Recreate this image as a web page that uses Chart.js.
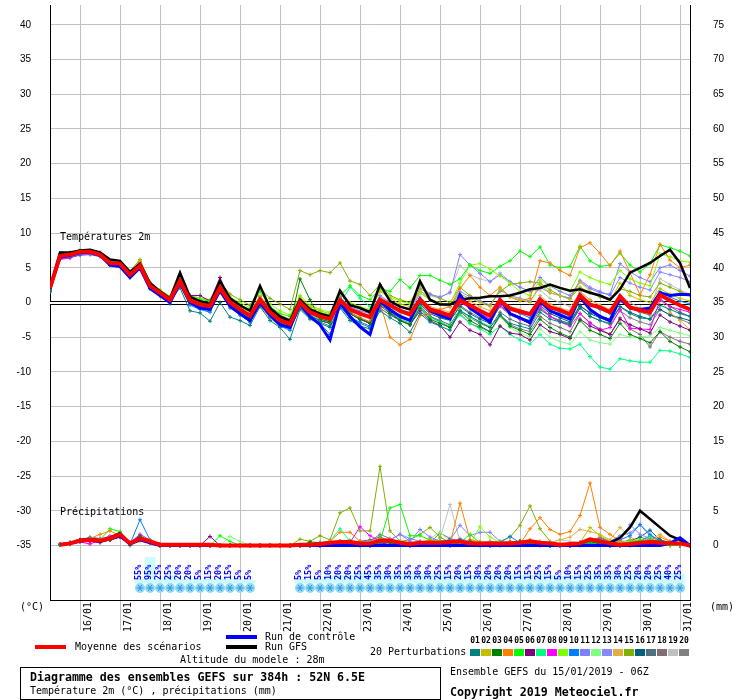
<!DOCTYPE html>
<html lang="fr">
<head>
<meta charset="UTF-8">
<title>Diagramme des ensembles GEFS sur 384h : 52N 6.5E</title>
<script src="https://cdn.jsdelivr.net/npm/chart.js"></script>
<style>
  body { margin: 0; background: #fff; }
  #wrap { position: relative; width: 740px; height: 700px; font-family: "DejaVu Sans Mono", monospace; font-size: 10px; color: #000; }
  #wrap canvas { position: absolute; left: 0; top: 0; }
  .t { position: absolute; white-space: nowrap; line-height: 12px; }
  .b { font-weight: bold; font-size: 11.6px; }
  .sw { position: absolute; height: 4px; width: 31px; }
  .num { position: absolute; top: 636px; width: 11px; text-align: center; font-size: 8px; font-weight: bold; line-height: 10px; }
  .box { position: absolute; top: 649px; width: 10px; height: 7px; }
  #frame { position: absolute; left: 20px; top: 667px; width: 419px; height: 31px; border: 1px solid #000; }
</style>
</head>
<body>
<div id="wrap">
  <canvas id="gefs" width="740" height="700"></canvas>
  <div class="t" style="left:60px;top:231px">Températures 2m</div>
  <div class="t" style="left:60px;top:506px">Précipitations</div>
  <div class="t" style="left:20px;top:601px">(°C)</div>
  <div class="t" style="left:710px;top:601px">(mm)</div>
  <div class="sw" style="left:35px;top:645px;background:#ff0000"></div>
  <div class="t" style="left:75px;top:641px">Moyenne des scénarios</div>
  <div class="sw" style="left:226px;top:635px;background:#0000ff"></div>
  <div class="t" style="left:265px;top:631px">Run de contrôle</div>
  <div class="sw" style="left:226px;top:645px;background:#000"></div>
  <div class="t" style="left:265px;top:641px">Run GFS</div>
  <div class="t" style="left:180px;top:654px">Altitude du modele : 28m</div>
  <div class="t" style="left:370px;top:646px">20 Perturbations</div>
  <div id="members"></div>
  <div id="frame"></div>
  <div class="t b" style="left:30px;top:671px">Diagramme des ensembles GEFS sur 384h : 52N 6.5E</div>
  <div class="t" style="left:30px;top:685px">Température 2m (°C) , précipitations (mm)</div>
  <div class="t" style="left:450px;top:666px">Ensemble GEFS du 15/01/2019 - 06Z</div>
  <div class="t b" style="left:450px;top:686px">Copyright 2019 Meteociel.fr</div>
</div>

<script>
// run hours from 15/01 06Z, one point every 6h
const hours = [0,6,12,18,24,30,36,42,48,54,60,66,72,78,84,90,96,102,108,114,120,126,132,138,144,150,156,162,168,174,180,186,192,198,204,210,216,222,228,234,240,246,252,258,264,270,276,282,288,294,300,306,312,318,324,330,336,342,348,354,360,366,372,378,384];
const dayHours = [18,42,66,90,114,138,162,186,210,234,258,282,306,330,354,378];
const dayLabels = ['16/01','17/01','18/01','19/01','20/01','21/01','22/01','23/01','24/01','25/01','26/01','27/01','28/01','29/01','30/01','31/01'];
const tempTicks = [-35,-30,-25,-20,-15,-10,-5,0,5,10,15,20,25,30,35,40];
const rainTicks = [0,5,10,15,20,25,30,35,40,45,50,55,60,65,70,75];

// temperature 2m (°C)
const meanTemp = [2.1,6.7,6.9,7.3,7.3,6.9,5.7,5.6,4.0,5.3,2.4,1.4,0.4,
  3.1,0.3,-0.3,-0.5,2.1,0.0,-1.0,-1.9,0.4,-1.4,-2.6,-3.1,
  0.0,-1.4,-2.0,-2.4,0.3,-1.0,-1.6,-2.1,0.4,-0.4,-1.2,-1.7,
  0.4,-1.0,-1.4,-1.9,0.3,-0.4,-1.2,-1.9,0.3,-0.9,-1.3,-1.7,
  0.4,-0.7,-1.1,-1.7,1.0,-0.3,-0.7,-1.4,0.9,-0.7,-1.1,-1.4,1.1,0.3,-0.4,-1.0];
const ctrlTemp = [2.0,6.5,6.8,7.2,7.2,6.8,5.4,5.2,3.6,5.0,2.0,1.0,0.0,
  2.8,0.0,-0.8,-1.0,1.8,-0.5,-1.6,-2.6,0.0,-1.8,-3.2,-3.6,
  -0.2,-2.0,-3.2,-5.4,0.0,-2.0,-3.5,-4.6,0.2,-1.0,-2.0,-2.6,
  0.5,-1.2,-1.8,-2.4,1.1,-0.8,-1.8,-2.8,0.4,-1.6,-2.2,-2.9,
  0.2,-1.2,-1.8,-2.4,0.8,-1.0,-2.0,-2.6,0.6,-0.8,-1.0,-0.8,1.4,1.0,1.2,1.1];
const gfsTemp = [2.1,7.2,7.2,7.5,7.6,7.2,6.2,6.0,4.4,5.6,2.8,1.6,0.6,
  4.3,0.8,0.2,-0.2,3.1,0.6,-0.4,-1.2,2.4,-0.8,-2.0,-2.6,
  0.4,-1.0,-1.6,-2.0,1.7,-0.4,-0.8,-1.4,2.6,0.2,-0.6,-1.0,
  3.1,0.4,-0.3,-0.3,0.4,0.6,0.7,0.9,0.9,1.0,1.4,1.9,
  2.1,2.6,2.1,1.7,1.9,1.4,1.0,0.4,1.9,4.3,5.0,5.7,6.7,7.6,5.7,2.1];

const t01 = [1.8,6.5,6.6,7.0,7.4,7.0,5.4,5.2,3.7,5.0,2.0,1.0,0.2,
  2.1,-1.2,-1.5,-2.7,0.0,-2.1,-2.6,-3.3,-0.6,-2.6,-3.6,-5.3,
  -1.0,-2.4,-3.0,-3.6,-0.8,-2.6,-3.4,-3.8,-1.2,-2.2,-3.0,-4.3,
  -1.6,-2.8,-3.4,-4.0,-1.2,-2.0,-2.8,-3.6,-1.8,-3.0,-3.4,-3.8,
  -1.4,-2.4,-2.8,-3.2,-0.8,-2.0,-2.6,-3.0,-0.6,-1.6,-2.2,-2.4,-0.4,-1.0,-1.6,-2.0];
const t02 = [2.4,6.8,7.0,7.3,7.2,6.8,5.9,5.8,4.4,5.8,2.8,1.6,0.6,
  3.4,0.6,0.0,-0.2,2.4,0.4,-0.6,-1.4,1.0,-0.8,-1.8,-2.4,
  0.8,-0.6,-1.2,-1.6,1.2,-0.2,-0.8,-1.2,1.6,0.6,-0.2,-0.6,
  1.8,0.4,0.0,-0.4,1.2,0.6,0.0,-0.6,2.0,0.8,0.4,0.0,
  2.6,1.4,1.0,0.4,3.0,1.6,1.0,0.2,2.8,1.0,0.4,0.0,2.0,1.2,0.6,0.2];
const t03 = [2.0,6.9,7.1,7.4,7.2,6.8,5.6,5.4,3.8,5.4,2.2,1.2,0.2,
  3.2,0.0,-0.6,-0.8,2.4,-0.2,-1.2,-2.2,0.6,-1.6,-2.8,-3.4,
  3.4,0.4,-2.4,-2.8,0.0,-1.6,-2.4,-3.0,-0.4,-1.6,-2.6,-3.2,
  -0.8,-2.4,-3.0,-3.6,-1.2,-2.6,-3.4,-4.2,-1.8,-3.4,-4.0,-4.6,
  -2.4,-3.6,-4.4,-5.0,-2.6,-4.0,-4.6,-5.2,-3.0,-4.6,-5.2,-5.8,-4.2,-5.6,-6.4,-7.1];
const t04 = [2.2,6.6,6.8,7.2,7.4,7.1,5.8,5.7,4.2,5.9,2.6,1.4,0.4,
  3.0,0.2,-0.4,-0.6,2.0,-0.2,-1.2,-2.0,0.2,-1.4,-2.8,-3.2,
  0.2,-1.2,-2.0,-2.6,0.4,-1.6,-2.2,-2.8,0.0,-5.0,-6.1,-5.3,
  -1.9,-1.6,-1.0,-0.6,2.0,3.9,2.2,1.0,2.2,0.8,0.2,0.6,
  6.0,5.7,4.6,3.9,7.9,8.6,7.1,5.3,7.4,4.3,1.1,4.0,8.4,6.1,5.0,5.4];
const t05 = [2.3,7.0,7.2,7.5,7.4,6.9,5.8,5.6,4.1,5.6,2.6,1.6,0.8,
  3.6,0.8,0.4,0.2,2.6,0.6,-0.4,-1.0,1.6,-0.6,-1.6,-2.0,
  0.6,-0.8,-1.4,-1.8,1.0,2.4,1.0,0.4,2.0,1.6,3.3,2.1,
  3.9,3.9,3.2,2.6,3.4,5.4,4.6,4.2,5.2,6.0,7.4,6.6,
  8.0,5.4,5.0,5.2,8.1,6.0,5.2,5.4,7.1,5.4,4.4,5.6,8.3,7.9,7.4,6.7];
const t06 = [1.9,6.6,6.8,7.2,7.4,7.2,5.6,5.4,3.9,5.8,2.8,1.6,0.6,
  3.8,1.0,1.0,0.2,3.6,0.2,-1.0,-1.8,0.8,-1.0,-2.2,-2.8,
  0.2,-1.2,-2.0,-2.6,-0.2,-1.6,-2.4,-3.0,0.0,-1.4,-2.6,-3.2,
  -1.2,-2.6,-3.3,-5.0,-2.8,-4.0,-4.6,-6.1,-3.4,-4.4,-4.6,-5.4,
  -3.2,-4.2,-4.6,-5.2,-2.4,-3.4,-4.0,-4.6,-2.4,-3.2,-3.8,-4.4,-1.8,-2.8,-3.4,-4.0];
const t07 = [2.0,6.8,7.0,7.3,7.3,6.9,5.6,5.4,3.9,5.2,2.2,1.2,0.2,
  2.8,0.0,-0.6,-0.8,1.8,-0.4,-1.4,-2.2,0.0,-1.8,-2.8,-3.4,
  -0.4,-1.8,-2.4,-2.8,-0.2,2.2,0.6,-0.6,0.0,-1.4,-2.4,-3.0,
  -0.6,-2.2,-2.8,-3.4,-1.8,-3.0,-3.8,-4.6,-3.4,-4.6,-5.4,-6.0,
  -4.6,-6.0,-6.6,-6.7,-6.0,-7.8,-9.3,-9.6,-8.1,-8.4,-8.6,-8.6,-6.9,-7.0,-7.4,-7.9];
const t08 = [2.5,6.2,6.4,6.9,7.0,6.7,5.6,5.6,4.1,5.4,2.4,1.4,0.4,
  3.0,0.4,0.2,-0.2,2.2,0.0,-1.0,-1.8,0.6,-1.0,-2.2,-3.0,
  0.4,-1.2,-2.0,-2.4,0.8,-0.8,-1.6,-2.0,-0.8,-0.4,-1.2,-1.8,
  0.2,-1.2,-1.8,-2.2,0.0,-0.8,-1.6,-2.4,-0.4,-1.6,-2.4,-3.0,
  -0.6,-2.0,-2.8,-3.4,-1.6,-2.9,-4.0,-3.6,-1.0,-3.7,-3.8,-3.9,0.4,-0.6,-1.0,-1.4];
const t09 = [2.3,7.0,7.2,7.6,7.5,7.0,5.9,5.8,4.3,5.9,2.8,1.8,0.9,
  3.6,0.9,0.6,0.2,3.0,0.8,0.0,-0.8,2.0,-0.2,-1.2,-1.8,
  1.0,-0.4,-1.0,-1.4,1.4,0.0,-0.6,-1.0,1.8,0.8,0.2,-0.2,
  1.4,0.4,-0.2,-0.2,2.8,5.4,5.6,4.8,3.8,2.8,1.6,1.0,
  3.2,2.4,2.0,1.6,4.4,3.6,3.0,2.6,4.6,3.4,2.8,2.4,7.0,6.6,6.0,5.8];
const t10 = [2.0,6.3,6.5,6.8,6.9,6.6,5.4,5.2,3.6,5.0,2.2,1.0,-0.2,
  2.6,-0.4,-1.0,-1.4,1.6,-0.6,-1.8,-2.8,-0.2,-2.0,-3.4,-4.0,
  -0.6,-2.2,-3.0,-4.6,-0.6,-2.2,-2.8,-3.4,-0.2,-1.4,-2.2,-2.6,
  0.6,-1.0,-1.4,-2.0,0.8,-0.4,-1.4,-2.4,0.2,-1.0,-1.6,-2.2,
  0.6,-0.8,-1.4,-2.0,1.2,-0.4,-1.0,-1.6,1.0,-0.6,-1.0,-1.2,1.6,0.8,0.2,-0.2];
const t11 = [2.2,6.6,6.9,7.2,7.1,6.8,5.7,5.5,4.0,5.3,2.3,1.3,0.3,
  3.0,0.2,-0.4,-0.6,2.0,0.0,-1.0,-1.8,0.4,-1.4,-2.4,-3.0,
  0.2,-1.2,-1.8,-2.2,0.8,-0.6,-1.2,-1.6,1.0,0.0,-0.6,-1.0,
  2.0,1.2,0.8,1.4,6.9,5.4,4.2,3.0,4.0,3.0,2.2,1.6,
  3.6,2.4,1.6,1.0,3.0,2.0,1.4,1.2,5.6,4.4,3.6,3.0,5.0,5.4,4.6,3.8];
const t12 = [2.1,6.8,7.0,7.4,7.3,6.9,5.7,5.6,4.0,5.4,2.4,1.4,0.4,
  3.2,0.4,-0.2,-0.4,2.2,0.0,-0.8,-1.6,0.6,-1.2,-2.4,-3.0,
  0.0,-1.4,-2.0,-2.4,0.4,-1.0,-1.6,-2.0,0.4,-0.6,-1.4,-2.0,
  0.4,-1.2,-1.8,-2.6,-1.0,-2.2,-2.8,-3.4,-2.0,-3.6,-4.4,-5.0,
  -3.8,-5.0,-5.6,-6.0,-4.2,-5.4,-5.8,-6.0,-4.6,-5.0,-5.0,-4.8,-3.6,-4.0,-4.4,-4.8];
const t13 = [2.2,6.4,6.7,7.1,7.2,6.9,5.7,5.4,3.9,5.2,2.2,1.2,0.2,
  2.8,0.2,-0.4,-0.6,2.0,-0.2,-1.2,-2.0,0.0,-1.6,-2.8,-3.4,
  -0.4,-1.8,-2.4,-2.8,0.0,-1.2,-1.8,-2.2,0.6,-0.4,-1.0,-1.4,
  1.4,0.4,-0.2,-0.6,1.6,0.8,0.2,-0.4,1.8,1.0,0.6,0.2,
  2.2,1.4,1.0,0.6,3.2,2.2,1.6,1.0,3.6,2.8,2.2,1.8,4.4,4.0,3.6,3.0];
const t14 = [2.6,6.4,6.6,7.0,7.2,6.9,5.8,5.7,4.4,6.0,2.6,1.5,0.5,
  3.2,0.4,-0.2,-0.4,2.2,0.2,-0.8,-1.6,0.6,-1.2,-2.4,-2.8,
  0.2,-1.2,-1.8,-2.2,0.6,-0.8,-1.6,-2.0,0.6,-0.2,-1.0,-1.6,
  0.8,-0.6,-1.0,-1.4,1.0,0.2,-0.6,-1.2,0.6,-0.6,-1.0,-1.6,
  1.0,-0.2,-0.8,-1.2,1.6,0.4,-0.4,-1.0,0.8,-0.6,-1.2,-1.6,0.4,-1.4,-2.6,-3.9];
const t15 = [2.0,6.9,7.1,7.4,7.4,7.0,5.9,5.8,4.5,6.2,2.9,1.8,0.8,
  3.6,1.0,0.6,0.4,3.0,1.2,0.4,-0.4,2.0,0.6,-0.2,-1.0,
  4.6,4.0,4.6,4.3,5.7,3.1,2.6,1.0,2.6,1.0,0.4,0.0,
  2.4,1.2,0.6,0.0,2.2,1.0,0.2,-0.4,1.6,2.6,2.8,3.0,
  2.8,1.8,1.0,0.6,2.2,1.4,0.8,0.4,2.0,1.6,1.0,0.8,2.8,2.2,1.6,1.0];
const t16 = [1.6,6.6,6.8,7.1,7.2,6.8,5.5,5.3,3.8,5.1,2.2,1.2,0.2,
  2.9,0.0,-0.6,-0.9,1.8,-0.4,-1.4,-2.4,0.0,-1.8,-3.0,-3.6,
  -0.2,-1.8,-2.6,-3.0,0.0,-1.6,-2.4,-3.0,0.2,-1.2,-2.0,-2.6,
  -0.2,-1.6,-2.2,-2.6,-0.6,-1.6,-2.4,-3.0,-0.4,-1.6,-2.2,-2.6,
  -0.4,-1.6,-2.2,-2.8,-0.4,-1.6,-2.2,-2.8,-0.6,-1.4,-2.0,-2.4,-1.0,-1.8,-2.2,-2.6];
const t17 = [1.5,6.5,6.7,7.0,7.1,6.7,5.4,5.3,3.8,5.0,2.1,1.1,0.1,
  2.6,-0.2,-0.8,-1.2,1.4,-0.8,-1.8,-2.8,-0.4,-2.2,-3.4,-3.8,
  -0.8,-2.2,-2.8,-3.4,-0.6,-2.2,-3.0,-3.6,-0.8,-1.8,-2.6,-3.2,
  -0.6,-2.0,-2.6,-3.2,-1.0,-2.2,-3.0,-3.6,-1.4,-2.4,-3.0,-3.4,
  -1.0,-2.0,-2.6,-3.0,-0.6,-1.4,-2.0,-2.4,0.2,-0.8,-1.4,-1.8,0.6,-0.6,-1.4,-2.0];
const t18 = [1.7,6.7,6.9,7.2,7.1,6.7,5.6,5.4,3.9,5.1,2.2,1.2,0.2,
  2.8,0.0,-0.6,-1.0,1.8,-0.6,-1.6,-2.4,0.0,-1.6,-2.8,-3.4,
  -0.4,-1.8,-2.6,-3.0,0.0,-1.4,-2.2,-2.8,0.2,-1.2,-2.4,-3.0,
  -0.4,-2.0,-2.8,-3.6,-1.6,-3.0,-3.6,-4.2,-2.0,-3.2,-3.8,-4.2,
  -2.0,-3.0,-3.6,-4.2,-1.6,-3.0,-3.8,-4.6,-2.2,-3.8,-4.6,-6.4,-4.2,-5.0,-5.6,-6.0];
const t19 = [2.0,6.5,6.8,7.1,7.2,6.9,5.6,5.5,3.9,5.2,2.2,1.2,0.2,
  2.7,0.0,-0.4,-0.6,1.8,-0.6,-1.4,-2.2,0.2,-1.4,-2.6,-3.2,
  -0.2,-1.6,-2.2,-2.6,0.2,-1.0,-1.6,-2.2,0.8,0.0,-0.6,-1.0,
  1.6,1.0,0.6,1.6,5.3,4.0,3.4,3.0,4.3,3.0,2.2,1.6,
  1.8,0.6,0.0,-0.6,1.4,0.4,-0.4,-1.0,1.0,0.0,-0.8,-1.2,3.4,2.6,1.8,1.2];
const t20 = [1.9,6.6,6.8,7.2,7.3,6.9,5.6,5.4,3.8,5.1,2.1,1.1,0.0,
  2.6,-0.2,-0.8,-1.0,1.6,-0.6,-1.6,-2.6,-0.2,-1.8,-3.0,-3.6,
  -0.6,-2.0,-2.6,-3.0,-0.2,-1.6,-2.4,-2.8,0.0,-1.0,-1.8,-2.4,
  0.0,-1.4,-2.0,-2.6,-0.4,-1.4,-2.2,-2.8,-0.6,-1.8,-2.4,-3.0,
  -0.8,-2.0,-2.6,-3.2,-0.8,-2.0,-2.6,-3.2,-1.2,-2.2,-2.8,-3.2,-1.0,-1.8,-2.4,-3.0];

// precipitation (mm per 6h)
const meanRain = [null,0.1,0.3,0.7,0.8,0.7,1.0,1.6,0.3,1.0,0.6,0.1,0.1,
  0.1,0.1,0.1,0.1,0,0,0,0,0,0,0,0,
  0.1,0.1,0.2,0.4,0.5,0.5,0.3,0.3,0.7,0.7,0.4,0.2,
  0.4,0.4,0.4,0.5,0.6,0.3,0.3,0.3,0.3,0.3,0.4,0.6,
  0.4,0.3,0.1,0.2,0.3,0.9,0.6,0.3,0.1,0.2,0.4,0.5,0.4,0.3,0.3,0];
const ctrlRain = [null,0.1,0.3,0.6,0.8,0.6,1.0,1.4,0.2,0.8,0.4,0,0,
  0,0,0,0,0,0,0,0,0,0,0,0,
  0,0,0,0,0,0,0,0,0,0,0,0,
  0,0,0,0,0,0,0,0,0,0,0,0,
  0,0,0,0,0,0,0,0,0,0,0,0,0,0.3,1.1,0];
const gfsRain = [null,0.1,0.3,0.8,0.9,0.7,1.1,1.8,0.2,1.0,0.5,0,0,
  0,0,0,0,0,0,0,0,0,0,0,0,
  0,0,0,0,0,0,0,0,0,0,0,0,
  0,0,0,0,0,0,0,0,0,0,0,0,
  0,0,0,0,0,0,0,0.4,1.1,2.6,5.0,3.8,2.6,1.4,0.8,0];

const r01 = [null,0.1,0.4,0.8,0.9,0.6,1.0,1.4,0.0,1.2,0.4,0,0,
  0,0,0,0,0,0,0,0,0,0,0,0,
  0,0,0,0.2,0.4,0.2,0,0,0.4,0.6,0.2,0,
  0.2,0.3,0.2,0.4,0.8,0.2,0,0,0,0.2,0.4,0.6,
  0.2,0,0,0,0,0.6,0.4,0.2,0,0,0.2,0.6,0.8,0.4,0.2,0];
const r02 = [null,0.2,0.3,0.6,0.8,0.8,1.2,1.8,0.2,0.8,0.6,0.2,0,
  0,0,0,0,0,0,0,0,0,0,0,0,
  0,0,0.2,0.4,0.6,0.4,0.2,0.4,1.0,0.8,0.4,0.2,
  0.4,0.2,0.6,0.4,0.4,0.2,0,0.2,0.4,0.2,0.4,0.8,
  0.4,0.2,0,0.2,0.4,2.6,1.4,0.6,0.2,0,0.4,0.8,0.6,0.2,0,0];
const r03 = [null,0.1,0.2,0.6,0.8,0.6,0.8,1.6,0.4,1.4,0.6,0,0,
  0,0,0,0,0,0,0,0,0,0,0,0,
  0,0.5,0.4,0.2,0.4,0.6,0.2,0,0.6,0.4,0.2,0,
  0.2,0.4,0.2,0,0.4,0.6,0.2,0,0.2,0.4,0.6,0.4,
  0.2,0,0,0.2,0.4,0.6,0.2,0,0,0.2,0.4,0.6,0.4,0.2,0,0];
const r04 = [null,0.1,0.3,0.7,1.0,1.6,2.1,1.4,0.2,0.6,0.4,0,0,
  0,0,0,0,0,0,0,0,0,0,0,0,
  0,0.2,0.4,0.6,1.9,1.9,0.6,0.2,0.4,0.6,0.2,0.2,
  0.4,0.8,0.4,0.2,6.1,0.8,0.4,0.2,0.4,0.6,0.2,2.4,
  4.0,2.3,1.6,2.0,4.3,9.0,2.6,1.6,0.6,0.2,0.4,0.8,1.2,0.6,0.4,0];
const r05 = [null,0.1,0.2,0.6,0.8,0.8,2.4,2.0,0.2,1.2,0.8,0.2,0,
  0,0,0,0,1.4,0.6,0,0,0,0,0,0,
  0,0,0.2,0.4,0.6,0.4,0.2,0.2,0.6,5.4,5.9,1.4,
  1.4,0.8,0.6,0.2,0.4,1.6,0.4,0.2,0.2,0.4,0.2,0.2,
  0.2,0,0,0,0.2,0.4,0.2,0,0.2,0.4,0.8,0.6,0.2,0,0,0];
const r06 = [null,0.2,0.4,0.8,0.6,0.4,0.8,1.2,0.2,1.0,0.4,0,0,
  0,0,0,1.3,0,0,0,0,0,0,0,0,
  0,0,0,0.2,0.4,0.2,0,0,0.2,0.4,0.2,0,
  0.2,0.4,0.2,0,0.2,0.4,0.2,0,0.2,0.4,0.6,0.2,
  0,0,0,0,0.2,0.4,0.2,0,0,0.2,0.4,0.8,0.6,0.2,0,0];
const r07 = [null,0.1,0.3,0.6,0.9,0.6,1.0,1.8,0.4,0.8,0.6,0,0,
  0,0,0,0,0,0,0,0,0,0,0,0,
  0,0.2,0.4,0.6,2.4,0.6,0.4,0.2,0.4,0.6,0.4,0.2,
  0.2,0.4,0.6,0.4,0.2,0.4,0.2,0.2,0.4,0.2,0.2,0.4,
  0.2,0,0,0,0.2,0.4,0.4,0.2,0,0.2,0.4,1.2,0.6,0.2,0,0];
const r08 = [null,0.2,0.3,0.5,0.2,0.8,1.4,1.6,0.4,1.6,0.8,0.2,0,
  0,0,0,0,0,0,0,0,0,0,0,0,
  0,0,0,0.2,0.6,0.4,2.7,1.4,0.6,0.4,0.2,0.2,
  0.4,0.2,0.4,0.2,0.2,0.4,0.2,0.4,0.2,0.4,0.2,0.6,
  0.4,0.2,0,0,0.2,0.4,0.2,0,0.2,0.4,0.6,0.8,0.4,0.2,0,0];
const r09 = [null,0.1,0.3,0.7,0.8,0.7,1.0,1.4,0.2,0.8,0.6,0,0,
  0,0,0,0,0,0,0,0,0,0,0,0,
  0,0.2,0.2,0.4,0.6,0.8,0.4,0.2,0.8,0.6,0.4,0.2,
  0.4,0.6,0.4,0.2,0.4,0.2,2.7,1.2,0.4,0.2,0.4,0.6,
  0.2,0.2,0,0,0.2,0.6,0.4,0.2,0.4,0.6,0.8,0.6,0.4,0.2,0,0];
const r10 = [null,0.1,0.2,0.6,0.8,0.6,0.8,1.2,0.2,3.7,0.8,0.2,0,
  0,0,0,0,0,0,0,0,0,0,0,0,
  0,0,0,0.2,0.4,0.2,0.4,0.2,0.4,0.6,0.4,0.2,
  0.4,0.2,0.6,0.8,0.6,0.4,0.2,0.2,0.4,1.3,0.4,0.2,
  0.2,0,0,0,0.2,0.4,0.2,0.4,0.8,1.4,3.0,1.6,0.6,0.2,0,0];
const r11 = [null,0.2,0.4,0.8,0.9,0.8,1.0,1.5,0.4,1.2,0.6,0.2,0,
  0,0,0,0,0,0,0,0,0,0,0,0,
  0,0,0,0.2,0.4,0.6,0.4,0.2,0.4,0.8,1.6,0.6,
  2.3,1.2,0.6,0.8,2.9,1.4,1.9,1.9,0.6,0.2,0.2,0.4,
  0.2,0,0,0.2,0.4,0.6,0.4,0.6,1.4,1.8,3.0,1.4,0.6,0.2,0,0];
const r12 = [null,0.1,0.3,0.7,0.8,0.7,1.0,1.6,0.2,0.8,0.6,0.2,0,
  0,0,0,0,0,1.3,0.6,0,0,0,0,0,
  0,0,0,0.2,0.4,0.2,0.2,0.4,0.6,0.4,0.2,0.2,
  0.4,1.0,1.9,0.6,0.4,0.2,0.2,0.4,0.2,0.4,0.2,0.2,
  0.2,0,0,0,0.2,0.4,0.2,0.2,0.4,0.6,0.4,0.2,0.2,0,0,0];
const r13 = [null,0.1,0.3,0.6,0.7,0.6,1.0,1.4,0.2,1.0,0.5,0,0,
  0,0,0,0,0,0,0,0,0,0,0,0,
  0,0,0.2,0.4,0.2,0.4,0.6,0.4,0.6,0.8,1.6,1.0,
  0.6,0.4,0.2,0.4,1.0,0.6,0.4,0.2,0.4,0.6,0.4,0.2,
  0.2,0,0,0.2,0.4,0.6,0.8,0.4,0.6,3.0,1.6,1.0,0.4,0.2,0,0];
const r14 = [null,0.1,0.3,0.6,0.8,0.9,1.2,1.6,0.3,0.8,0.5,0,0,
  0,0,0,0,0,0,0,0,0,0,0,0,
  0,0,0,0.2,0.4,0.4,0.2,0.2,0.6,0.4,0.2,0.2,
  0.4,0.6,0.4,0.2,0.4,0.8,0.6,0.4,0.2,0.4,0.6,0.8,
  0.6,0.4,0.8,1.2,2.3,2.0,1.6,0.8,2.6,1.2,0.6,0.8,1.6,0.6,0.2,0];
const r15 = [null,0.1,0.3,0.8,0.9,0.8,1.2,1.8,0.2,1.0,0.6,0.2,0,
  0,0,0,0,0,0,0,0,0,0,0,0,
  0.9,0.6,1.4,0.8,4.7,5.4,2.1,2.1,11.4,2.1,0.6,0.8,
  1.6,2.6,1.2,0.4,0.2,0.4,0.2,0.4,0.6,1.2,2.9,5.7,
  2.4,0.6,0.2,0,0.4,0.8,0.6,0.2,0,0.2,0.4,0.8,0.6,0.2,0,0];
const r16 = [null,0.2,0.4,0.8,1.0,0.9,1.0,1.4,0.2,1.0,0.6,0.2,0,
  0,0,0,0,0,0,0,0,0,0,0,0,
  0,0.2,0.2,0.4,0.6,0.4,0.4,0.2,0.4,0.6,0.4,0.2,
  0.2,0.4,0.6,0.4,0.2,0.4,0.2,0.2,0.4,0.2,0.2,0.4,
  0.2,0,0,0,0.2,0.6,0.4,0.2,0.2,0.6,1.2,2.2,0.8,0.2,0,0];
const r17 = [null,0.1,0.3,0.8,1.2,1.0,1.2,1.6,0.3,1.2,0.6,0,0,
  0,0,0,0,0,0,0,0,0,0,0,0,
  0,0,0.2,0.2,0.4,0.4,0.6,0.8,1.2,0.6,0.4,0.2,
  0.4,0.2,0.4,0.6,0.6,0.4,0.2,0.2,0.2,0.4,0.6,0.4,
  0.2,0,0,0,0.4,0.8,1.0,0.6,0.4,0.2,0.6,1.4,0.8,0.4,0,0];
const r18 = [null,0.1,0.2,0.6,0.8,0.6,0.8,1.2,0.2,0.8,0.4,0,0,
  0,0,0,0,0,0,0,0,0,0,0,0,
  0,0,0,0.2,0.4,0.6,0.4,0.2,0.6,0.8,0.4,0.2,
  0.6,0.4,1.8,1.0,0.6,0.2,0.2,0.4,0.2,0.4,0.2,0.2,
  0.2,0,0,0,0.2,0.4,0.2,0,0.2,0.6,1.2,0.8,0.4,0.2,0,0];
const r19 = [null,0.1,0.2,0.5,0.6,0.5,0.8,1.2,0.1,0.8,0.4,0,0,
  0,0,0,0,0,0,0,0,0,0,0,0,
  0,0,0,0.2,0.4,0.2,0.4,0.6,1.2,0.8,0.6,0.4,
  0.2,0.6,1.0,5.9,0.6,0.4,0.2,0.2,0.4,0.4,0.6,0.8,
  0.6,0.4,0.8,0.6,0.4,0.6,0.4,0.6,0.8,0.4,0.2,0.4,0.2,0,0,0];
const r20 = [null,0.1,0.2,0.6,0.7,0.6,0.9,1.4,0.2,1.0,0.5,0,0,
  0,0,0,0,0,0,0,0,0,0,0,0,
  0,0,0.2,0.4,0.6,0.4,0.2,0.6,1.6,1.0,0.4,0.2,
  0.4,0.6,0.4,0.2,0.4,0.2,0.4,0.6,0.4,0.2,0.2,0.4,
  0.2,0,0,0.2,0.4,0.6,1.2,0.6,0.4,0.8,0.6,0.4,0.2,0,0,0];

// snow probability (%) and snow cell height (cm)
const snowPct = [null,null,null,null,null,null,null,null,null,
  55,95,25,25,20,20,5,15,20,15,5,5,
  null,null,null,null,
  5,15,5,10,20,20,25,45,35,30,35,35,30,30,25,15,20,15,30,20,20,20,15,15,25,15,5,10,15,25,35,35,30,25,20,20,25,40,25,
  null];
const snowCell = [null,null,null,null,null,null,null,null,null,
  1.6,10.4,1.6,3.2,1.6,1.6,1.2,1.6,1.6,1.6,1.2,1.2,
  null,null,null,null,
  1.6,1.6,1.6,3.2,3.2,3.2,4.0,4.0,4.0,3.6,4.0,4.0,3.6,3.6,3.6,3.2,3.6,3.2,3.6,3.6,3.6,3.6,3.2,3.2,3.6,3.2,2.8,3.2,3.2,3.6,4.0,4.0,3.6,3.6,3.6,3.6,3.6,4.0,3.6,
  null];

const memberColors = ['#008080','#c0c000','#008000','#ff8000','#00ff00','#800080','#00ff80','#ff00ff','#80ff00','#0080ff',
  '#8080ff','#80ff80','#8888ff','#e0b040','#80b000','#006080','#507080','#807070','#c0c0c0','#808080'];
const memberTemps = [t01,t02,t03,t04,t05,t06,t07,t08,t09,t10,t11,t12,t13,t14,t15,t16,t17,t18,t19,t20];
const memberRain = [r01,r02,r03,r04,r05,r06,r07,r08,r09,r10,r11,r12,r13,r14,r15,r16,r17,r18,r19,r20];

// legend colour boxes
const members = document.getElementById('members');
memberColors.forEach((c, k) => {
  const left = 470 + k * 11;
  members.insertAdjacentHTML('beforeend',
    `<div class="num" style="left:${left - 0.5}px">${String(k + 1).padStart(2, '0')}</div>` +
    `<div class="box" style="left:${left}px;background:${c}"></div>`);
});

function member(vals, color, axis) {
  return {
    data: vals, yAxisID: axis, borderColor: color, backgroundColor: color,
    borderWidth: 1, pointStyle: 'cross', pointRadius: 2, pointBorderWidth: 1,
    pointBorderColor: color
  };
}

const datasets = [
  { data: meanTemp, yAxisID: 'y', borderColor: '#ff0000', borderWidth: 4, pointRadius: 0 },
  { data: meanRain, yAxisID: 'y2', borderColor: '#ff0000', borderWidth: 4, pointRadius: 0 },
  { data: ctrlTemp, yAxisID: 'y', borderColor: '#0000ff', borderWidth: 3, pointRadius: 0 },
  { data: ctrlRain, yAxisID: 'y2', borderColor: '#0000ff', borderWidth: 3, pointRadius: 0 },
  { data: gfsTemp, yAxisID: 'y', borderColor: '#000000', borderWidth: 2.5, pointRadius: 0 },
  { data: gfsRain, yAxisID: 'y2', borderColor: '#000000', borderWidth: 2.5, pointRadius: 0 }
];
memberColors.forEach((c, k) => {
  datasets.push(member(memberTemps[k], c, 'y'));
  datasets.push(member(memberRain[k], c, 'y2'));
});
datasets.push({ type: 'bar', data: snowCell, yAxisID: 'ys', backgroundColor: '#ccfcff', barThickness: 10 });

const tickFont = { family: 'Liberation Sans', size: 10 };

// keep the plot box at 50..690 x 0..600, whatever label padding chart.js wants
function noPad(axis) {
  axis.paddingTop = 0; axis.paddingBottom = 0;
  axis.paddingLeft = 0; axis.paddingRight = 0;
}

// double 0°C line, snow flakes and snow probabilities
const extras = {
  id: 'extras',
  beforeDatasetsDraw(chart) {
    const { ctx, chartArea, scales } = chart;
    const y0 = Math.round(scales.y.getPixelForValue(0));
    ctx.save();
    ctx.fillStyle = '#000';
    ctx.fillRect(chartArea.left, y0 - 2, chartArea.width, 4);
    ctx.fillStyle = '#fff';
    ctx.fillRect(chartArea.left, y0 - 1, chartArea.width, 2);
    ctx.restore();
  },
  afterDatasetsDraw(chart) {
    const { ctx, scales } = chart;
    ctx.save();
    snowPct.forEach((p, i) => {
      if (p == null) return;
      const cx = scales.x.getPixelForValue(hours[i]);
      const cy = 588;
      ctx.fillStyle = '#8fdcf6';
      ctx.beginPath();
      ctx.arc(cx, cy, 5, 0, Math.PI * 2);
      ctx.fill();
      ctx.strokeStyle = '#3b8fdc';
      ctx.lineWidth = 1;
      ctx.beginPath();
      for (let a = 0; a < 3; a++) {
        const ang = a * Math.PI / 3;
        ctx.moveTo(cx - 3.5 * Math.cos(ang), cy - 3.5 * Math.sin(ang));
        ctx.lineTo(cx + 3.5 * Math.cos(ang), cy + 3.5 * Math.sin(ang));
      }
      ctx.stroke();
      ctx.save();
      ctx.translate(cx - 1, 580);
      ctx.rotate(-Math.PI / 2);
      ctx.fillStyle = '#0000ff';
      ctx.font = 'bold 8.5px "DejaVu Sans Mono"';
      ctx.textAlign = 'left';
      ctx.textBaseline = 'middle';
      ctx.fillText(p + '%', 0, 0);
      ctx.restore();
    });
    ctx.restore();
  }
};

new Chart(document.getElementById('gefs'), {
  type: 'line',
  data: { labels: hours, datasets: datasets },
  options: {
    responsive: false,
    animation: false,
    layout: { padding: 0 },
    plugins: { legend: { display: false }, tooltip: { enabled: false } },
    elements: { line: { tension: 0 } },
    scales: {
      x: {
        type: 'linear', min: 0, max: 384, offset: false,
        afterBuildTicks: axis => { axis.ticks = dayHours.map(v => ({ value: v })); },
        afterFit: axis => { axis.height = 100; noPad(axis); },
        grid: { color: '#c0c0c0', tickLength: 30, offset: false },
        border: { color: '#000' },
        ticks: {
          autoSkip: false, minRotation: 90, maxRotation: 90, labelOffset: 8, padding: -28,
          color: '#000', font: { family: 'DejaVu Sans Mono', size: 10 },
          callback: (v, i) => dayLabels[i]
        }
      },
      y: {
        position: 'left', min: -300 / 7, max: 300 / 7,
        afterBuildTicks: axis => { axis.ticks = tempTicks.map(v => ({ value: v })); },
        afterFit: axis => { axis.width = 50; noPad(axis); },
        grid: { color: '#c0c0c0', drawTicks: false },
        border: { color: '#000' },
        ticks: { padding: 19, color: '#000', font: tickFont }
      },
      y2: {
        position: 'right', min: -55 / 7, max: 545 / 7,
        afterBuildTicks: axis => { axis.ticks = rainTicks.map(v => ({ value: v })); },
        afterFit: axis => { axis.width = 50; noPad(axis); },
        grid: { display: false, drawTicks: false },
        border: { color: '#000' },
        ticks: { padding: 23, color: '#000', font: tickFont }
      },
      ys: { display: false, min: -6.8, max: 233.2 }
    }
  },
  plugins: [extras]
});
</script>
</body>
</html>
